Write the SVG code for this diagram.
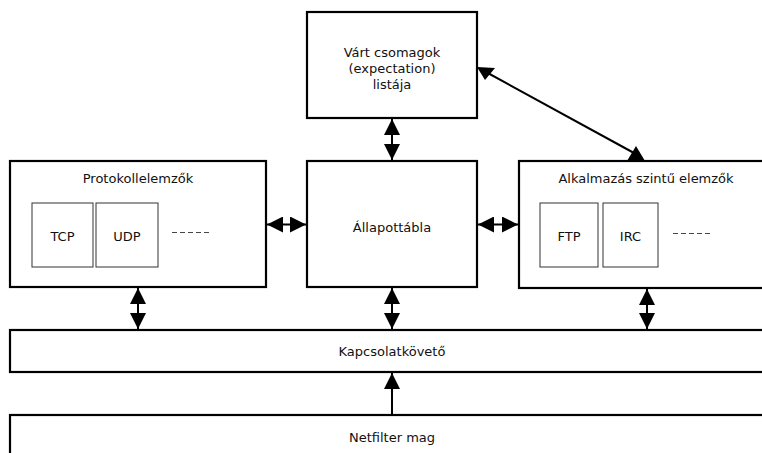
<svg xmlns="http://www.w3.org/2000/svg" width="762" height="453" viewBox="0 0 762 453">
<style>
.box{fill:#fff;stroke:#000;stroke-width:2.2}
.inner{fill:#fff;stroke:#333;stroke-width:1}
.t{font-family:"DejaVu Sans",Verdana,sans-serif;font-size:13px;fill:#111;text-anchor:middle}
.ln{stroke:#000;stroke-width:2;fill:none}
.dash{stroke:#444;stroke-width:1;stroke-dasharray:5 3;fill:none}
</style>
<defs>
<marker id="ah" viewBox="0 0 16 16" refX="16" refY="8" markerWidth="16" markerHeight="16" markerUnits="userSpaceOnUse" orient="auto-start-reverse">
<path d="M0,0 L16,8 L0,16 Z" fill="#000"/>
</marker>
</defs>
<rect width="762" height="453" fill="#fff"/>
<g id="expect">
<rect class="box" x="307" y="12" width="170" height="106"/>
<text class="t" x="392" y="56.5">Várt csomagok</text>
<text class="t" x="392" y="72.5">(expectation)</text>
<text class="t" x="392" y="89">listája</text>
</g>
<g id="proto">
<rect class="box" x="10" y="161" width="256" height="126"/>
<text class="t" x="138" y="182.5">Protokollelemzők</text>
<g id="tcp"><rect class="inner" x="32" y="203" width="61" height="64"/><text class="t" x="62.5" y="240.5">TCP</text></g>
<g id="udp"><rect class="inner" x="96" y="203" width="62" height="64"/><text class="t" x="127" y="240.5">UDP</text></g>
<line class="dash" x1="172" y1="232.5" x2="210" y2="232.5"/>
</g>
<g id="state">
<rect class="box" x="307" y="161" width="170" height="126"/>
<text class="t" x="392" y="231.5">Állapottábla</text>
</g>
<g id="app">
<rect class="box" x="519" y="161" width="250" height="127"/>
<text class="t" x="646" y="182.5">Alkalmazás szintű elemzők</text>
<g id="ftp"><rect class="inner" x="540" y="203" width="58" height="64"/><text class="t" x="569" y="240.5">FTP</text></g>
<g id="irc"><rect class="inner" x="603" y="203" width="55" height="64"/><text class="t" x="630.5" y="240.5">IRC</text></g>
<line class="dash" x1="673" y1="233.5" x2="712" y2="233.5"/>
</g>
<g id="conntrack">
<rect class="box" x="10" y="330" width="770" height="42"/>
<text class="t" x="392" y="356">Kapcsolatkövető</text>
</g>
<g id="netfilter">
<rect class="box" x="10" y="415" width="770" height="60"/>
<text class="t" x="392" y="442">Netfilter mag</text>
</g>
<g id="connectors">
<line class="ln" x1="392" y1="119" x2="392" y2="160" marker-start="url(#ah)" marker-end="url(#ah)"/>
<line class="ln" x1="267" y1="224.5" x2="306" y2="224.5" marker-start="url(#ah)" marker-end="url(#ah)"/>
<line class="ln" x1="478" y1="224.5" x2="518" y2="224.5" marker-start="url(#ah)" marker-end="url(#ah)"/>
<line class="ln" x1="392" y1="288" x2="392" y2="329" marker-start="url(#ah)" marker-end="url(#ah)"/>
<line class="ln" x1="138" y1="288" x2="138" y2="329" marker-start="url(#ah)" marker-end="url(#ah)"/>
<line class="ln" x1="647" y1="289" x2="647" y2="329" marker-start="url(#ah)" marker-end="url(#ah)"/>
<line class="ln" x1="392" y1="414" x2="392" y2="373" marker-end="url(#ah)"/>
<line class="ln" x1="486" y1="72" x2="634" y2="153"/>
<polygon points="477,67 495,68 485,80" fill="#000"/>
<polygon points="636,146 627,161 645,161" fill="#000"/>
</g>
</svg>
